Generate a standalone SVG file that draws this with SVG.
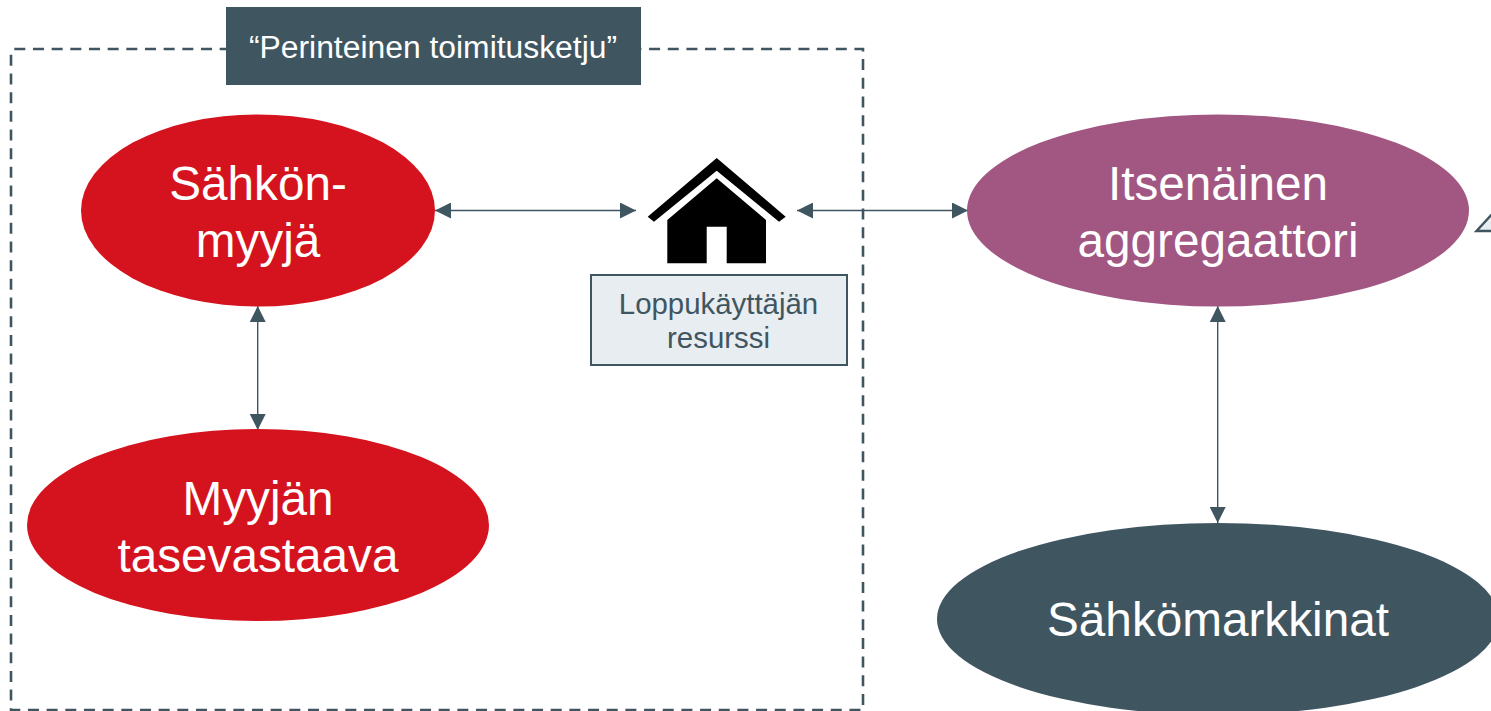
<svg xmlns="http://www.w3.org/2000/svg" width="1491" height="711" viewBox="0 0 1491 711">
<style>
text{font-family:"Liberation Sans",Arial,sans-serif;text-anchor:middle}
.big{font-size:47.7px;fill:#fff}
.small{font-size:29.4px;fill:#3F5661}
.conn{stroke:#3F5661;stroke-width:1.4;fill:none;marker-start:url(#a);marker-end:url(#a)}
</style>
<defs>
<marker id="a" viewBox="0 0 16 16" refX="16" refY="8" markerUnits="userSpaceOnUse" markerWidth="16" markerHeight="16" orient="auto-start-reverse"><path d="M0 0L16 8L0 16Z" fill="#3F5661"/></marker>
</defs>
<rect width="1491" height="711" fill="#fff"/>
<g id="frame"><rect x="11" y="49" width="852" height="661" fill="none" stroke="#3F5661" stroke-width="2.6" stroke-dasharray="11 7.67" stroke-dashoffset="-3.3"/></g>
<g id="title"><rect x="226" y="7" width="415" height="78" fill="#3F5661"/><text x="433" y="58" font-size="31.85" fill="#fff">“Perinteinen toimitusketju”</text></g>
<g id="connectors">
<line class="conn" x1="435" y1="210.500" x2="636" y2="210.500"/>
<line class="conn" x1="797" y1="210.500" x2="968" y2="210.500"/>
<line class="conn" x1="257.700" y1="306" x2="257.700" y2="430"/>
<line class="conn" x1="1217.700" y1="306" x2="1217.700" y2="523"/>
</g>
<g id="sahkonmyyja"><ellipse cx="258" cy="210.500" rx="177" ry="96" fill="#D5131E"/><text class="big" x="258" y="200">Sähkön-</text><text class="big" x="258" y="257">myyjä</text></g>
<g id="tasevastaava"><ellipse cx="258" cy="525" rx="231" ry="96" fill="#D5131E"/><text class="big" x="258" y="514.500">Myyjän</text><text class="big" x="258" y="571.500">tasevastaava</text></g>
<g id="aggregaattori"><ellipse cx="1218" cy="210.500" rx="251" ry="96" fill="#A25682"/><text class="big" x="1218" y="200">Itsenäinen</text><text class="big" x="1218" y="257">aggregaattori</text></g>
<g id="markkinat"><ellipse cx="1218" cy="619" rx="281" ry="96" fill="#3F5661"/><text class="big" x="1218" y="635.700">Sähkömarkkinat</text></g>
<g id="resurssi">
<path d="M647.700 216.700L716.700 158L785.700 216.700L779 221.700L716.700 170.700L654 221.700Z" fill="#000"/>
<path d="M667.300 220L716.700 178.300L766 220V263.300H726.700V226.700H706.700V263.300H667.300Z" fill="#000"/>
<rect x="591" y="275" width="256" height="90" fill="#E8EDF1" stroke="#3F5661" stroke-width="2"/>
<text class="small" x="718.500" y="313.500">Loppukäyttäjän</text><text class="small" x="718.500" y="348">resurssi</text>
</g>
<g id="cut"><path d="M1476.500 231L1494 212V231Z" fill="#E8EDF1" stroke="#3F5661" stroke-width="2.500"/></g>
</svg>
